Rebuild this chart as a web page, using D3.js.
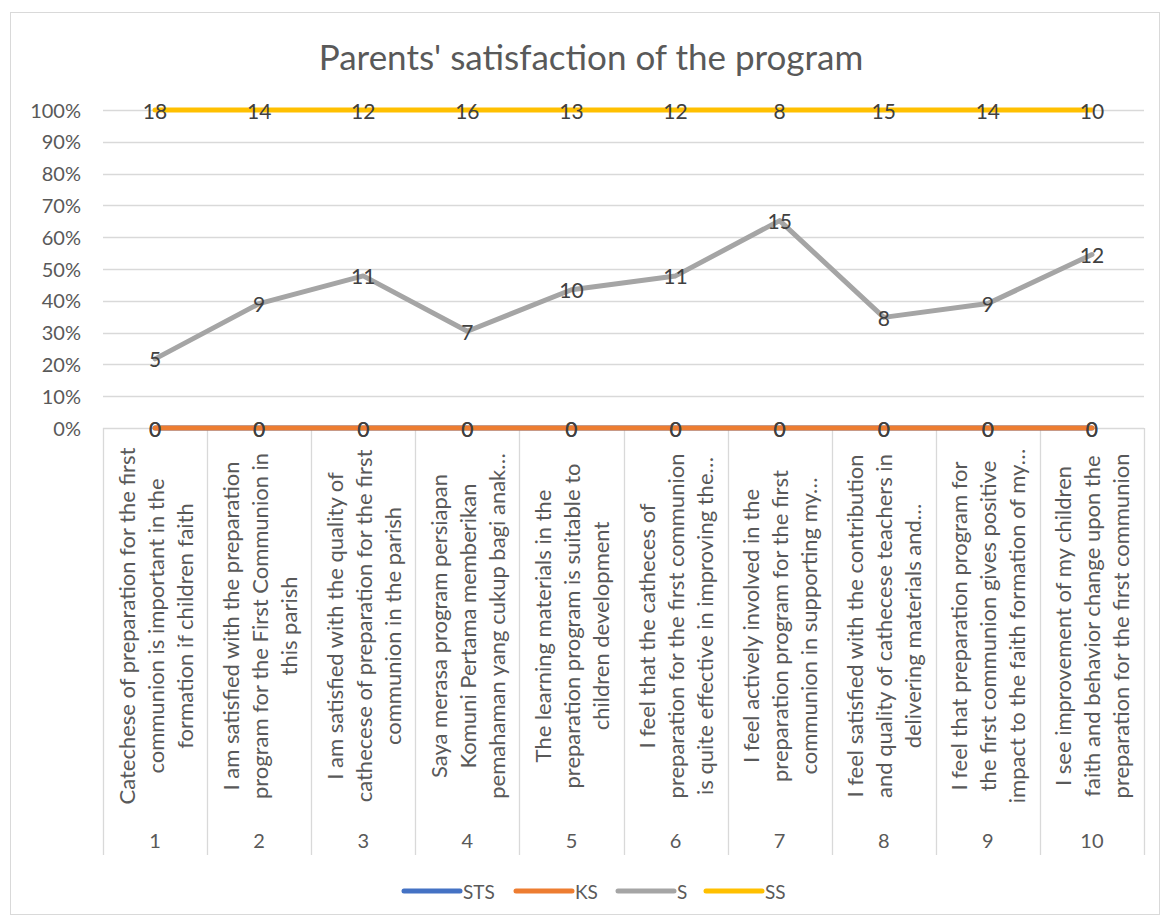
<!DOCTYPE html>
<html><head><meta charset="utf-8">
<script src="https://cdn.jsdelivr.net/npm/d3@7"></script>
<style>body{margin:0;background:#fff}svg{display:block;font-family:Lato,"Noto Sans",sans-serif}</style>
</head><body><svg id="c" width="1163" height="922"></svg>
<script>
const categories = ["1","2","3","4","5","6","7","8","9","10"];
const categoryText = [
 ["Catechese of preparation for the first","communion is important in the","formation if children faith"],
 ["I am satisfied with the preparation","program for the First Communion in","this parish"],
 ["I am satisfied with the quality of","cathecese of preparation for the first","communion in the parish"],
 ["Saya merasa program persiapan","Komuni Pertama memberikan","pemahaman yang cukup bagi anak…"],
 ["The learning materials in the","preparation program is suitable to","children development"],
 ["I feel that the catheces of","preparation for the first communion","is quite effective in improving the…"],
 ["I feel actively involved in the","preparation program for the first","communion in supporting my…"],
 ["I feel satisfied with the contribution","and quality of cathecese teachers in","delivering materials and…"],
 ["I feel that preparation program for","the first communion gives positive","impact to the faith formation of my…"],
 ["I see improvement of my children","faith and behavior change upon the","preparation for the first communion"]
];
const seriesNames = ["STS","KS","S","SS"];
const seriesColors = ["#4472C4","#ED7D31","#A5A5A5","#FFC000"];
const STS = [0,0,0,0,0,0,0,0,0,0];
const KS  = [0,0,0,0,0,0,0,0,0,0];
const S   = [5,9,11,7,10,11,15,8,9,12];
const SS  = [18,14,12,16,13,12,8,15,14,10];
const yTicks = [0,0.1,0.2,0.3,0.4,0.5,0.6,0.7,0.8,0.9,1];
const title = "Parents' satisfaction of the program";

const svg = d3.select("#c");
const L=103, R=1144, T=110, B=428, CB=855;
// chart border
svg.append("rect").attr("x",10.5).attr("y",12.5).attr("width",1149).attr("height",902)
  .attr("fill","#fff").attr("stroke","#D9D9D9");

svg.append("text").attr("x",591).attr("y",56).attr("text-anchor","middle")
  .attr("dominant-baseline","central").attr("font-size",35).attr("fill","#595959").text(title);

const x = d3.scaleBand().domain(categories).range([L,R]).padding(0);
const y = d3.scaleLinear().domain([0,1]).range([B,T]);

// gridlines
svg.append("g").selectAll("line").data(yTicks).join("line")
  .attr("x1",L).attr("x2",R).attr("y1",d=>Math.round(y(d))+0.5).attr("y2",d=>Math.round(y(d))+0.5)
  .attr("stroke","#D9D9D9").attr("stroke-width",1.3);

// y axis labels
const yAxis = d3.axisLeft(y).tickValues(yTicks).tickFormat(d3.format(".0%")).tickSize(0).tickPadding(0);
const ya = svg.append("g").attr("transform",`translate(${L-22},0)`).call(yAxis);
ya.select(".domain").remove();
ya.selectAll("text").attr("font-size",20).attr("fill","#595959").attr("font-family","Lato,'Noto Sans',sans-serif").attr("dy","0.35em");

// category separators
const sepX = categories.map(c=>x(c)).concat([R]);
svg.append("g").selectAll("line").data(sepX).join("line")
  .attr("x1",d=>Math.round(d)+0.5).attr("x2",d=>Math.round(d)+0.5).attr("y1",B).attr("y2",CB)
  .attr("stroke","#D9D9D9").attr("stroke-width",1.3);

// category labels
const cg = svg.append("g");
categories.forEach((c,i)=>{
  const cx = x(c)+x.bandwidth()/2;
  const lines = categoryText[i];
  const n = lines.length, lh = 29;
  lines.forEach((t,j)=>{
    const lx = cx + (j-(n-1)/2)*lh;
    cg.append("text").attr("transform",`translate(${lx},626) rotate(-90)`)
      .attr("text-anchor","middle").attr("dominant-baseline","central")
      .attr("font-size",22).attr("fill","#595959").text(t);
  });
  cg.append("text").attr("x",cx).attr("y",840).attr("text-anchor","middle").attr("dominant-baseline","central")
    .attr("font-size",20).attr("fill","#595959").text(c);
});

// stacked 100% lines
const raw = [STS,KS,S,SS];
const totals = categories.map((c,i)=>raw.reduce((a,s)=>a+s[i],0));
const cum = raw.map((s,k)=>s.map((v,i)=>raw.slice(0,k+1).reduce((a,ss)=>a+ss[i],0)/totals[i]));
const line = d3.line().x((d,i)=>x(categories[i])+x.bandwidth()/2).y(d=>y(d));
svg.append("g").selectAll("path").data(cum).join("path")
  .attr("d",d=>line(d)).attr("fill","none").attr("stroke",(d,k)=>seriesColors[k])
  .attr("stroke-width",5).attr("stroke-linejoin","round").attr("stroke-linecap","round");

// data labels
const lg = svg.append("g");
raw.forEach((s,k)=>{
  s.forEach((v,i)=>{
    lg.append("text").attr("x",x(categories[i])+x.bandwidth()/2).attr("y",y(cum[k][i]))
      .attr("text-anchor","middle").attr("dominant-baseline","central")
      .attr("font-size",21).attr("fill","#404040").text(v);
  });
});

// legend
const legX = [404,516,618,706];
const leg = svg.append("g");
seriesNames.forEach((n,k)=>{
  leg.append("line").attr("x1",legX[k]).attr("x2",legX[k]+56).attr("y1",891).attr("y2",891)
    .attr("stroke",seriesColors[k]).attr("stroke-width",5).attr("stroke-linecap","round");
  leg.append("text").attr("x",legX[k]+59).attr("y",891).attr("dominant-baseline","central")
    .attr("font-size",19).attr("fill","#595959").text(n);
});
</script></body></html>
